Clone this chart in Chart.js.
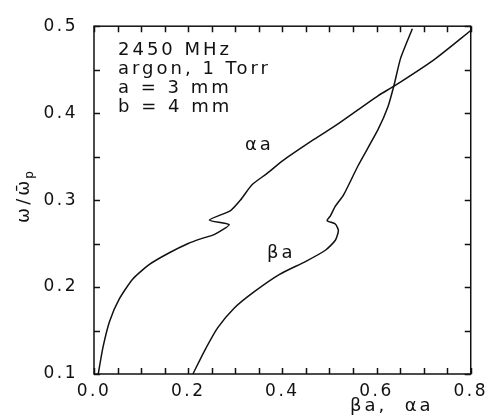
<!DOCTYPE html>
<html>
<head>
<meta charset="utf-8">
<script src="https://cdn.jsdelivr.net/npm/chart.js@4.4.1/dist/chart.umd.min.js"></script>
<style>
  html, body { margin: 0; padding: 0; background: #fff; }
  #wrap { width: 495px; height: 416px; }
</style>
</head>
<body>
<div id="wrap"><canvas id="chart" width="495" height="416"></canvas></div>
<script>
// alpha*a branch (x = alpha a, y = omega / omega_p)
const alphaX = [0.009, 0.019, 0.033, 0.054, 0.082, 0.117, 0.158, 0.200, 0.228, 0.256, 0.287,
                0.245, 0.290, 0.311, 0.335, 0.367, 0.401, 0.467, 0.519, 0.603, 0.638, 0.721, 0.800];
const alphaY = [0.100, 0.1306, 0.1605, 0.1866, 0.209, 0.2258, 0.2389, 0.2501, 0.2557, 0.2606, 0.2718,
                0.277, 0.288, 0.300, 0.3174, 0.3305, 0.3454, 0.3697, 0.388, 0.420, 0.4313, 0.461, 0.495];

// beta*a branch
const betaX = [0.210, 0.235, 0.2625, 0.297, 0.339, 0.394, 0.450, 0.492, 0.5125, 0.519, 0.5125, 0.495, 0.502,
               0.5125, 0.530, 0.561, 0.603, 0.624, 0.6375, 0.651, 0.676];
const betaY = [0.100, 0.1269, 0.153, 0.1754, 0.1941, 0.2146, 0.2296, 0.2426, 0.2538, 0.265, 0.2725, 0.2765, 0.2818,
               0.293, 0.306, 0.3398, 0.381, 0.407, 0.433, 0.463, 0.497];

const xTickLabels = ['0.0', '0.2', '0.4', '0.6', '0.8'];
const yTickLabels = ['0.1', '0.2', '0.3', '0.4', '0.5'];
const infoLines = ['2450 MHz', 'argon, 1 Torr', 'a = 3 mm', 'b = 4 mm'];
const curveLabels = ['\u03b1a', '\u03b2a'];
const xTitle = '\u03b2a,  \u03b1a';

const FONT = '"DejaVu Sans", sans-serif';
const INK = '#111';

function pts(xs, ys) {
    return xs.map((x, i) => ({ x: x, y: ys[i] }));
}

function pickLabel(value, labels) {
    const s = value.toFixed(1);
    const hit = Math.abs(value * 10 - Math.round(value * 10)) < 1e-6;
    return hit && labels.includes(s) ? s : '';
}

const decor = {
    id: 'decor',
    beforeUpdate(chart) { chart.ctx.letterSpacing = '2.5px'; },
    beforeDraw(chart) { chart.ctx.letterSpacing = '2.5px'; },
    afterDraw(chart) {
        const { ctx, chartArea: a, scales: { x, y } } = chart;
        ctx.save();
        ctx.strokeStyle = INK;
        ctx.lineWidth = 1.5;
        ctx.strokeRect(a.left, a.top, a.right - a.left, a.bottom - a.top);

        // inward ticks on all four sides
        ctx.beginPath();
        x.ticks.forEach(t => {
            const px = Math.round(x.getPixelForValue(t.value)) + 0.5;
            ctx.moveTo(px, a.bottom); ctx.lineTo(px, a.bottom - 6);
            ctx.moveTo(px, a.top); ctx.lineTo(px, a.top + 6);
        });
        y.ticks.forEach(t => {
            const py = Math.round(y.getPixelForValue(t.value)) + 0.5;
            ctx.moveTo(a.left, py); ctx.lineTo(a.left + 6, py);
            ctx.moveTo(a.right, py); ctx.lineTo(a.right - 6, py);
        });
        ctx.stroke();

        ctx.fillStyle = INK;
        ctx.textAlign = 'left';
        ctx.textBaseline = 'alphabetic';

        // info block
        ctx.font = '18px ' + FONT;
        ctx.letterSpacing = '3px';
        infoLines.forEach((s, i) => ctx.fillText(s, 118, 55 + i * 19));

        // curve labels
        ctx.fillText(curveLabels[0], 245, 150);
        ctx.fillText(curveLabels[1], 267, 258);

        // x title
        ctx.font = '18px ' + FONT;
        ctx.fillText(xTitle, 350, 411);

        // y title: omega / omega-bar with subscript p, rotated
        ctx.translate(29, 195);
        ctx.rotate(-Math.PI / 2);
        ctx.letterSpacing = '3px';
        ctx.font = '18px ' + FONT;
        const main = '\u03c9/\u03c9\u0304';
        const wMain = ctx.measureText(main).width;
        ctx.font = '12px ' + FONT;
        const wSub = ctx.measureText('p').width;
        const x0 = -(wMain + wSub) / 2;
        ctx.font = '18px ' + FONT;
        ctx.fillText(main, x0, 0);
        ctx.font = '12px ' + FONT;
        ctx.fillText('p', x0 + wMain - 1, 4);
        ctx.restore();
    }
};

new Chart(document.getElementById('chart'), {
    type: 'scatter',
    data: {
        datasets: [
            { label: 'alpha a', data: pts(alphaX, alphaY) },
            { label: 'beta a', data: pts(betaX, betaY) }
        ]
    },
    options: {
        responsive: false,
        animation: false,
        devicePixelRatio: 1,
        showLine: true,
        elements: {
            point: { radius: 0 },
            line: { borderColor: INK, borderWidth: 1.5, tension: 0.2, fill: false }
        },
        layout: { padding: { left: 0, right: 17, top: 17, bottom: 0 } },
        plugins: { legend: { display: false }, tooltip: { enabled: false } },
        scales: {
            x: {
                type: 'linear', min: 0, max: 0.8,
                afterFit(s) { s.height = 42; },
                grid: { display: false, drawTicks: false },
                border: { display: false },
                ticks: {
                    stepSize: 0.05, autoSkip: false, maxRotation: 0, padding: 7,
                    color: INK, font: { family: FONT, size: 17 },
                    callback: v => pickLabel(v, xTickLabels)
                }
            },
            y: {
                type: 'linear', min: 0.1, max: 0.5,
                afterFit(s) { s.width = 94; },
                grid: { display: false, drawTicks: false },
                border: { display: false },
                ticks: {
                    stepSize: 0.05, autoSkip: false, padding: 16,
                    color: INK, font: { family: FONT, size: 17 },
                    callback: v => pickLabel(v, yTickLabels)
                }
            }
        }
    },
    plugins: [decor]
});
</script>
</body>
</html>
